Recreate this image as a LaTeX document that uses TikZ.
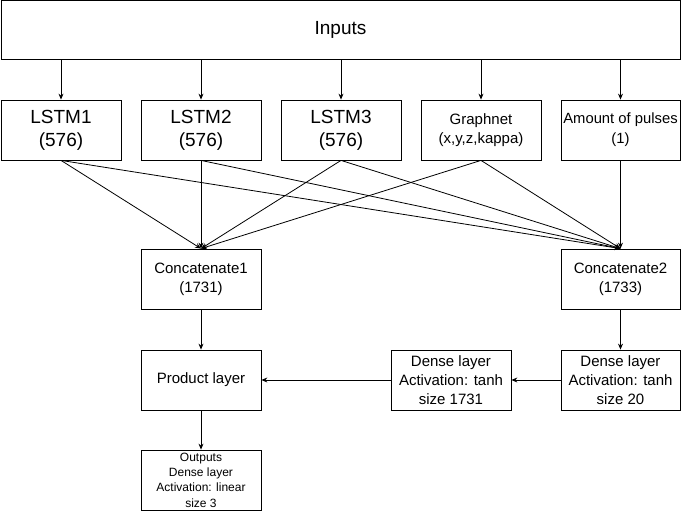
\documentclass[tikz,border=0pt]{standalone}
\usepackage{fontspec}
\setmainfont{Liberation Sans}
\usetikzlibrary{arrows.meta}
\begin{document}
\begin{tikzpicture}[x=1pt,y=-1pt,line width=0.8pt,
  layerbox/.style={draw, minimum width=120pt, minimum height=60pt, inner sep=0pt, align=center, font=\fontsize{15}{19}\selectfont},
  flow/.style={-{Stealth[length=6pt,width=5pt,inset=2pt]}}]
\useasboundingbox (0,0) rectangle (681,511);
\node[layerbox, minimum width=679pt, minimum height=59pt, font=\fontsize{19}{23}\selectfont] (inputs) at (340.5,30) {Inputs};
\node[layerbox, font=\fontsize{19}{23}\selectfont] (lstm1) at (61,130) {LSTM1\\(576)};
\node[layerbox, font=\fontsize{19}{23}\selectfont] (lstm2) at (201,130) {LSTM2\\(576)};
\node[layerbox, font=\fontsize{19}{23}\selectfont] (lstm3) at (341,130) {LSTM3\\(576)};
\node[layerbox] (graphnet) at (481,130) {Graphnet\\(x,y,z,kappa)};
\node[layerbox, minimum width=119pt, font=\fontsize{14.8}{20}\selectfont] (pulses) at (620.5,130) {Amount of pulses\\(1)};
\node[layerbox] (concat1) at (201,279) {Concatenate1\\(1731)};
\node[layerbox, minimum width=119pt] (concat2) at (620.5,279) {Concatenate2\\(1733)};
\node[layerbox] (product) at (201,380) {Product layer};
\node[layerbox] (dense1731) at (451,380) {Dense layer\\Activation: tanh\\size 1731};
\node[layerbox, minimum width=119pt] (dense20) at (620.5,380) {Dense layer\\Activation: tanh\\size 20};
\node[layerbox, font=\fontsize{12}{15.3}\selectfont] (outputs) at (201,480) {Outputs\\Dense layer\\Activation: linear\\size 3};
\foreach \n in {lstm1,lstm2,lstm3,graphnet,pulses}
  \draw[flow] (inputs.south -| \n.north) -- (\n.north);
\foreach \n in {lstm1,lstm2,lstm3,graphnet}
  \draw[flow] (\n.south) -- (concat1.north);
\foreach \n in {lstm1,lstm2,lstm3,graphnet,pulses}
  \draw[flow] (\n.south) -- (concat2.north);
\draw[flow] (concat1) -- (product);
\draw[flow] (concat2) -- (dense20);
\draw[flow] (dense20) -- (dense1731);
\draw[flow] (dense1731) -- (product);
\draw[flow] (product) -- (outputs);
\end{tikzpicture}
\end{document}
